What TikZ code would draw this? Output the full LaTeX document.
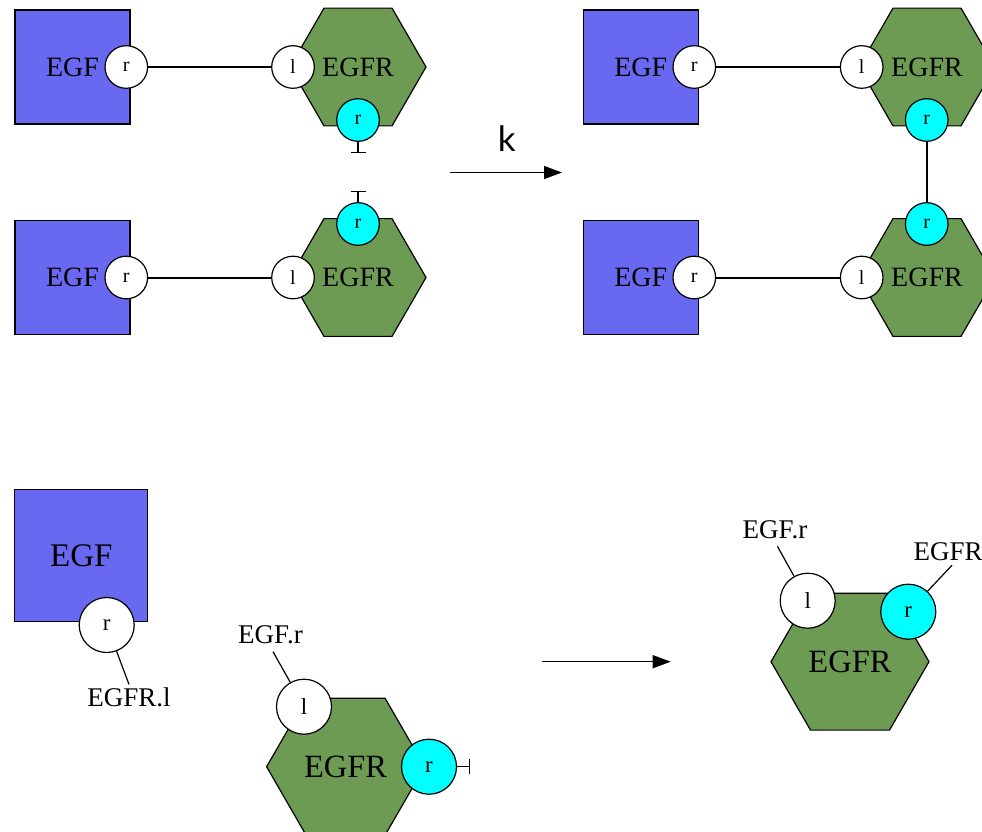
\documentclass[tikz,border=0pt]{standalone}
\usepackage{fontspec}
\setmainfont{Liberation Serif}
\newfontfamily\ratefont{Lato}
\usetikzlibrary{shapes.geometric,arrows.meta}
\definecolor{egfblue}{RGB}{104,104,240}
\definecolor{egfrgreen}{RGB}{109,155,83}
\definecolor{freecyan}{RGB}{0,255,255}

\begin{document}
\begin{tikzpicture}[x=1pt, y=-1pt, line width=1.2pt,
  agent/.style={draw, fill=egfblue, inner sep=0pt, minimum width=115pt, minimum height=114pt, font=\fontsize{28}{28}\selectfont},
  receptor/.style={draw, fill=egfrgreen, regular polygon, regular polygon sides=6, inner sep=0pt, minimum size=136pt, font=\fontsize{28}{28}\selectfont},
  site/.style={draw, circle, fill=white, inner sep=0pt, minimum size=42.6pt, font=\fontsize{20}{20}\selectfont},
  freesite/.style={site, fill=freecyan},
  bigagent/.style={agent, minimum width=133pt, minimum height=132pt, font=\fontsize{33}{33}\selectfont},
  bigreceptor/.style={receptor, minimum size=158pt, font=\fontsize{32.5}{32.5}\selectfont},
  bigsite/.style={site, minimum size=55pt, font=\fontsize{23}{23}\selectfont},
  bigfreesite/.style={bigsite, fill=freecyan},
  tag/.style={inner sep=3pt, anchor=base, font=\fontsize{27}{27}\selectfont},
  bond/.style={line width=2pt},
  stub/.style={-{Bar[width=15pt]}},
  reaction/.style={-{Triangle[length=18pt, width=13pt]}, line width=1.5pt},
]
\useasboundingbox (0,0) rectangle (982,832);
\clip (0,0) rectangle (982,832);

% left side of the rule
\node[agent] (egfA) at (72.5,67) {EGF};
\node[site] (egfAr) at (126.3,67) {r};
\node[receptor] (egfrA) at (358,67) {EGFR};
\node[site] (egfrAl) at (293,67) {l};
\node[freesite] (egfrAr) at (358,120) {r};
\coordinate (stubA) at (358,153);

\node[agent] (egfB) at (72.5,277.5) {EGF};
\node[site] (egfBr) at (126.3,277.5) {r};
\node[receptor] (egfrB) at (358,277.5) {EGFR};
\node[site] (egfrBl) at (293,277.5) {l};
\node[freesite] (egfrBr) at (358,224) {r};
\coordinate (stubB) at (358,191);

\draw[bond] (egfAr) -- (egfrAl);
\draw[bond] (egfBr) -- (egfrBl);
\draw[stub] (egfrAr) -- (stubA);
\draw[stub] (egfrBr) -- (stubB);

% rule arrow
\coordinate (ruleAstart) at (450,172.5);
\coordinate (ruleAend) at (562,172.5);
\draw[reaction] (ruleAstart) -- (ruleAend);
\node[anchor=base, inner sep=0pt, font=\ratefont\fontsize{35}{35}\selectfont] (rateA) at (506.7,151.7) {k};

% right side of the rule
\node[agent] (egfC) at (640.8,67) {EGF};
\node[site] (egfCr) at (694.3,67) {r};
\node[receptor] (egfrC) at (927,67) {EGFR};
\node[site] (egfrCl) at (861.7,67) {l};
\node[freesite] (egfrCr) at (926.7,120) {r};

\node[agent] (egfD) at (640.8,277.5) {EGF};
\node[site] (egfDr) at (694.3,277.5) {r};
\node[receptor] (egfrD) at (927,277.5) {EGFR};
\node[site] (egfrDl) at (861.7,277.5) {l};
\node[freesite] (egfrDr) at (926.7,224) {r};

\draw[bond] (egfCr) -- (egfrCl);
\draw[bond] (egfDr) -- (egfrDl);
\draw[bond] (egfrCr) -- (egfrDr);

% bottom: contact map style
\node[bigagent] (egfE) at (81.3,555.5) {EGF};
\node[bigsite] (egfEr) at (106.7,625) {r};
\node[tag] (tagE) at (129,706.7) {EGFR.l};
\draw (egfEr) -- (tagE.north);

\node[bigreceptor] (egfrF) at (345.6,766.7) {EGFR};
\node[bigsite] (egfrFl) at (304,706.7) {l};
\node[bigfreesite] (egfrFr) at (429,766.7) {r};
\coordinate (stubF) at (470,766.7);
\draw[stub] (egfrFr) -- (stubF);
\node[tag] (tagF) at (270.5,643.3) {EGF.r};
\draw[shorten >=5pt] (egfrFl) -- (tagF.south);

\coordinate (ruleBstart) at (541.7,661.7);
\coordinate (ruleBend) at (670.7,661.7);
\draw[reaction] (ruleBstart) -- (ruleBend);

\node[bigreceptor] (egfrG) at (850,661.7) {EGFR};
\node[bigsite] (egfrGl) at (807.7,600.7) {l};
\node[bigfreesite] (egfrGr) at (908.3,611.7) {r};
\node[tag] (tagGl) at (775,538) {EGF.r};
\node[tag, anchor=base west, inner sep=0pt] (tagGr) at (913,560) {EGFR};
\draw[shorten >=5pt] (egfrGl) -- (tagGl.south);
\draw[shorten >=6pt] (egfrGr) -- ([xshift=8pt]tagGr.south);
\end{tikzpicture}
\end{document}
